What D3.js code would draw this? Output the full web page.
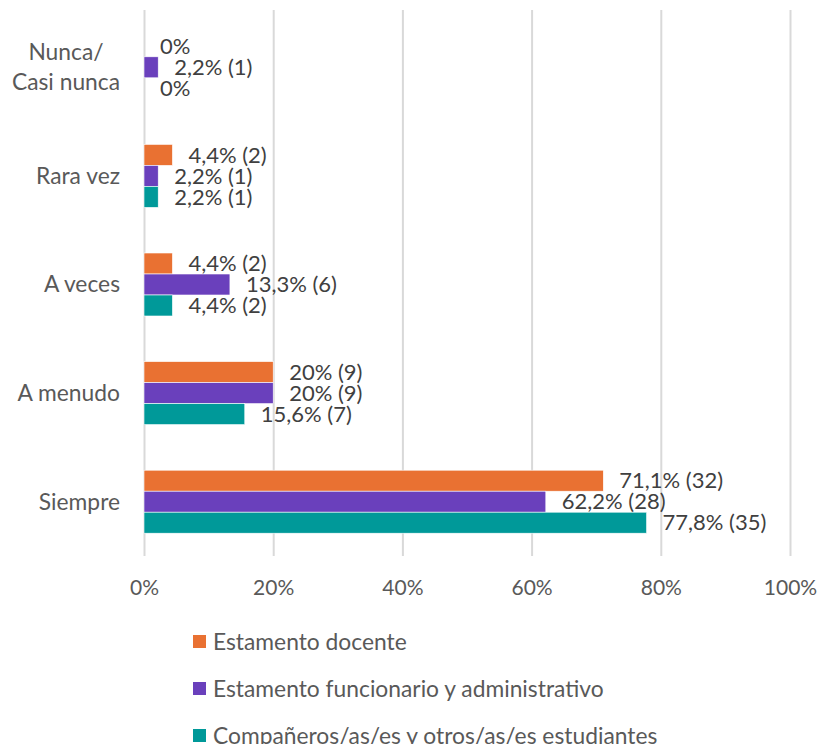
<!DOCTYPE html>
<html><head><meta charset="utf-8">
<script src="https://cdn.jsdelivr.net/npm/d3@7"></script>
<style>body{margin:0;background:#fff}svg{display:block}</style>
</head><body>
<svg id="chart" width="820" height="744"></svg>
<script>
const categories = ["Nunca/\nCasi nunca", "Rara vez", "A veces", "A menudo", "Siempre"];
const seriesNames = ["Estamento docente", "Estamento funcionario y administrativo", "Compañeros/as/es y otros/as/es estudiantes"];
const seriesColors = ["#E97132", "#6A40BC", "#009999"];
const docente = [0, 4.4, 4.4, 20, 71.1];
const docenteN = [0, 2, 2, 9, 32];
const funcionario = [2.2, 2.2, 13.3, 20, 62.2];
const funcionarioN = [1, 1, 6, 9, 28];
const estudiantes = [0, 2.2, 4.4, 15.6, 77.8];
const estudiantesN = [0, 1, 2, 7, 35];
const xTicks = [0, 20, 40, 60, 80, 100];

const values = [docente, funcionario, estudiantes];
const counts = [docenteN, funcionarioN, estudiantesN];
const FONT = "Lato, 'Source Sans Pro', sans-serif";
const FS = "22.8px";

const svg = d3.select("#chart");
const x = d3.scaleLinear().domain([0, 100]).range([144, 790]);
const y = d3.scaleBand().domain(categories).range([13, 556]).paddingInner(0.42).paddingOuter(0.21);
const ySub = d3.scaleBand().domain(d3.range(3)).range([0, y.bandwidth()]);

// gridlines
const xAxis = d3.axisBottom(x).tickValues(xTicks).tickFormat(d => d + "%").tickSize(-(556 - 10)).tickPadding(24);
const gx = svg.append("g").attr("transform", "translate(0,556)").call(xAxis);
gx.select(".domain").remove();
gx.selectAll(".tick line").attr("stroke", "#D9D9D9").attr("stroke-width", 2);
gx.selectAll(".tick text").attr("fill", "#595959").style("font-family", FONT).style("font-size", "21px");

// bars
categories.forEach((c, ci) => {
  values.forEach((vals, si) => {
    const v = vals[ci];
    const yy = y(c) + ySub(si);
    if (v > 0) {
      svg.append("rect").attr("x", x(0)).attr("y", yy).attr("width", x(v) - x(0)).attr("height", ySub.bandwidth())
        .attr("fill", seriesColors[si]).attr("stroke", "#fff").attr("stroke-width", 0.6);
    }
    const lab = v === 0 ? "0%" : String(v).replace(".", ",") + "% (" + counts[si][ci] + ")";
    svg.append("text").attr("x", x(v) + 16).attr("y", yy + ySub.bandwidth() / 2).attr("dy", "0.35em")
      .attr("fill", "#404040").style("font-family", FONT).style("font-size", "22px").text(lab);
  });
});

// category labels
categories.forEach(c => {
  const lines = c.split("\n");
  const cy = y(c) + y.bandwidth() / 2;
  if (lines.length === 1) {
    svg.append("text").attr("x", 120).attr("y", cy).attr("dy", "0.35em").attr("text-anchor", "end")
      .attr("fill", "#595959").style("font-family", FONT).style("font-size", FS).text(c);
  } else {
    const t = svg.append("text").attr("fill", "#595959").style("font-family", FONT).style("font-size", FS).attr("text-anchor", "middle");
    lines.forEach((l, i) => {
      t.append("tspan").attr("x", 66).attr("y", cy + (i - (lines.length - 1) / 2) * 30).attr("dy", "0.35em").text(l);
    });
  }
});

// legend
seriesNames.forEach((n, i) => {
  const ly = 642 + i * 47;
  svg.append("rect").attr("x", 193).attr("y", ly - 7).attr("width", 13).attr("height", 13).attr("fill", seriesColors[i]);
  svg.append("text").attr("x", 213).attr("y", ly).attr("dy", "0.35em").attr("fill", "#595959")
    .style("font-family", FONT).style("font-size", FS).text(n);
});
</script>
</body></html>
